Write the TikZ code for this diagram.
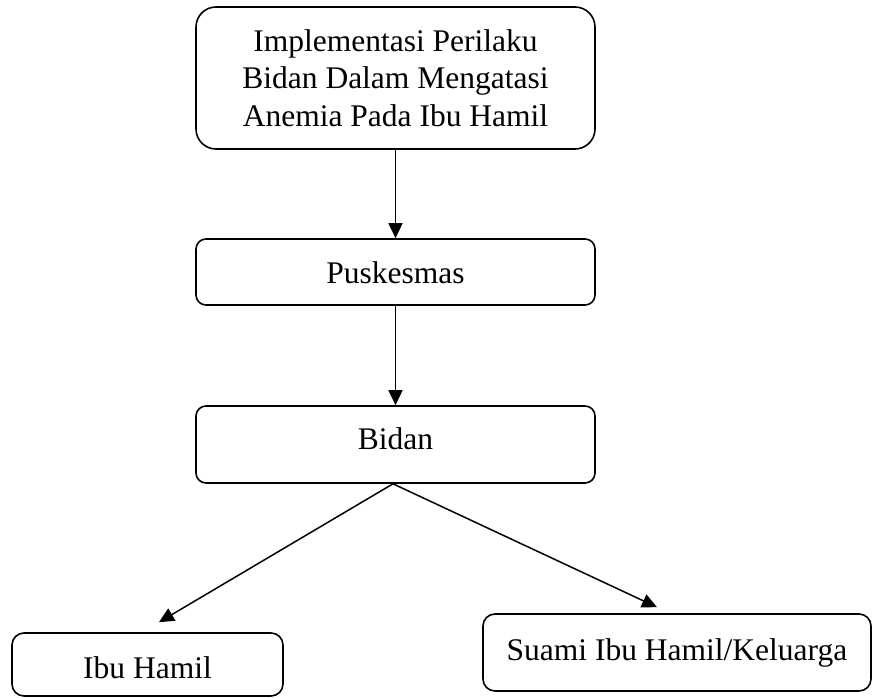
\documentclass[tikz,border=0pt]{standalone}
\usepackage{fontspec}
\setmainfont{Liberation Serif}
\usetikzlibrary{arrows.meta,positioning}

\begin{document}
\begin{tikzpicture}[
			x=1pt,y=-1pt,
			flowbox/.style={
				draw=black,
				rounded corners=10pt,
				line width=1.6pt,
				fill=white,
				align=center,
				inner sep=0pt,
				text height=22pt,
				text depth=6pt,
				font=\fontsize{31.5}{37.5}\selectfont
			},
			flowarrow/.style={
				-{Triangle[length=15pt,width=14pt]},
				draw=black,
				line width=1.5pt
			}
			]
			
			\useasboundingbox (0,0) rectangle (873,698);
			
			% Top box
			\node[flowbox,rounded corners=20pt,text height=,text depth=,
				minimum width=399pt,minimum height=142pt] (impl) at (395.5,78) {
				Implementasi Perilaku\\
				Bidan Dalam Mengatasi\\
				Anemia Pada Ibu Hamil
			};
			
			% Middle boxes
			\node[flowbox,text height=24pt,text depth=2pt,
				minimum width=399pt,minimum height=66pt] (pusk) at (395.5,272) {Puskesmas};
			
			\node[flowbox,text height=16pt,text depth=7pt,
				minimum width=399pt,minimum height=77pt] (bidan) at (395.5,444.5) {Bidan};
			
			% Bottom line
			\node[flowbox,rounded corners=12pt,text height=27pt,text depth=0pt,
				minimum width=271pt,minimum height=63pt] (ibu) at (147.5,664.5) {Ibu Hamil};
			
			\node[flowbox,rounded corners=12pt,
				minimum width=388pt,minimum height=77pt] (suami) at (677,652.5) {Suami Ibu Hamil/Keluarga};
			
			% Main sequence
			\draw[flowarrow]
			(impl.south) --
			(pusk.north);
			
			\draw[flowarrow]
			(pusk.south) --
			(bidan.north);
			
			% Split
			\draw[flowarrow]
			([xshift=-2.5pt]bidan.south) --
			([xshift=11.5pt,yshift=10pt]ibu.north);
			
			\draw[flowarrow]
			([xshift=-2.5pt]bidan.south) --
			([xshift=-20pt,yshift=6pt]suami.north);
			
		\end{tikzpicture}
\end{document}
